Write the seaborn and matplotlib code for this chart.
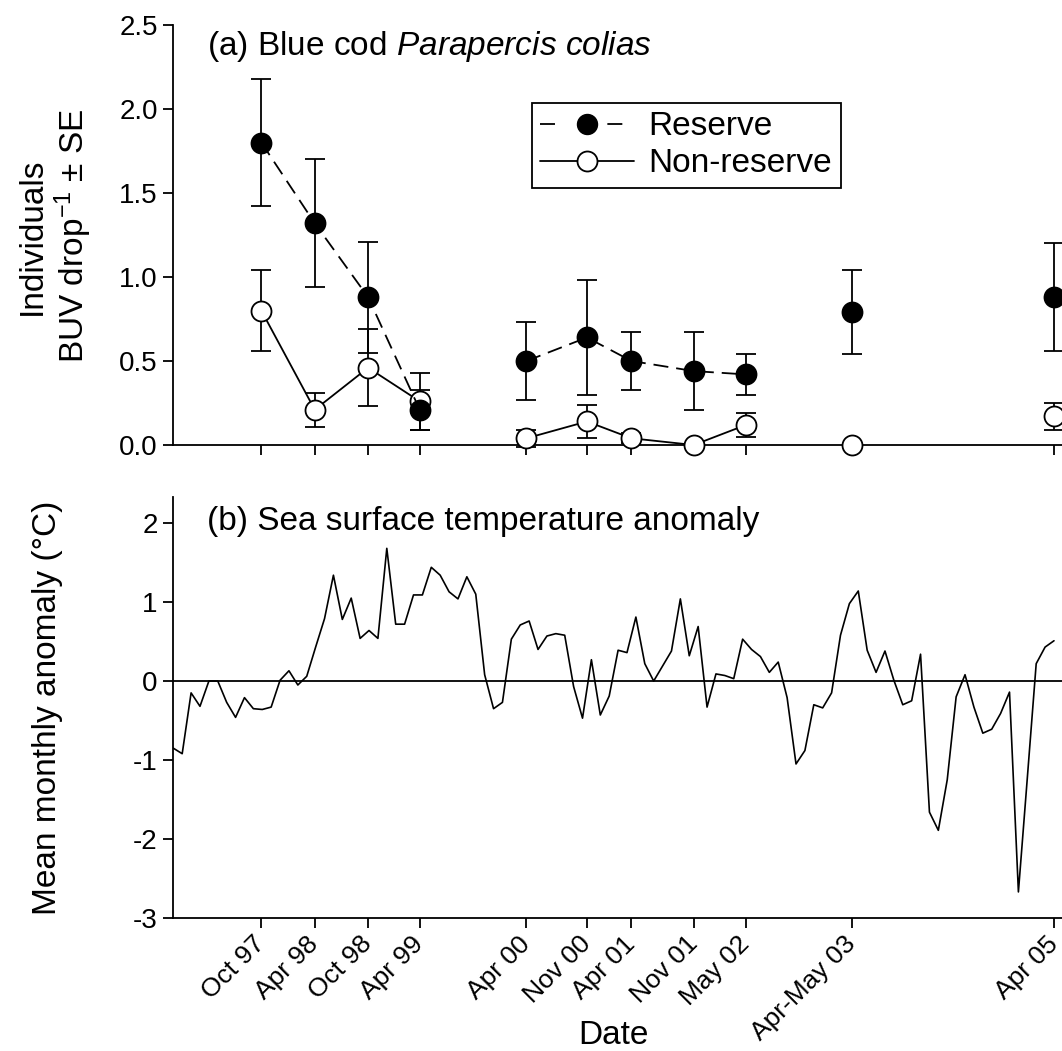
import numpy as np
import pandas as pd
import matplotlib
matplotlib.use("Agg")
import matplotlib.pyplot as plt
from matplotlib.lines import Line2D
import seaborn as sns

# Survey times (months after Dec 1996) and their tick labels
survey_labels = ["Oct 97", "Apr 98", "Oct 98", "Apr 99", "Apr 00", "Nov 00",
                 "Apr 01", "Nov 01", "May 02", "Apr-May 03", "Apr 05"]
survey_month = [9.9, 15.9, 21.9, 27.7, 39.7, 46.5, 51.5, 58.5, 64.4, 76.3, 99.0]
# consecutive surveys that are joined by a line
survey_block = [0, 0, 0, 0, 1, 1, 1, 1, 1, 2, 3]

reserve_mean = [1.80, 1.32, 0.88, 0.21, 0.50, 0.64, 0.50, 0.44, 0.42, 0.79, 0.88]
reserve_se = [0.38, 0.38, 0.33, 0.12, 0.23, 0.34, 0.17, 0.23, 0.12, 0.25, 0.32]
nonres_mean = [0.80, 0.21, 0.46, 0.26, 0.04, 0.14, 0.04, 0.00, 0.12, 0.00, 0.17]
nonres_se = [0.24, 0.10, 0.23, 0.17, 0.05, 0.10, 0.03, 0.00, 0.07, 0.00, 0.08]

# Monthly sea surface temperature anomaly (deg C), starting Dec 1996
sst_anomaly = [
    -0.85, -0.92, -0.15, -0.32, 0.00, 0.00, -0.27, -0.46, -0.21, -0.35,
    -0.36, -0.33, 0.01, 0.13, -0.05, 0.06, 0.43, 0.79, 1.34, 0.78,
    1.05, 0.54, 0.64, 0.54, 1.68, 0.72, 0.72, 1.09, 1.09, 1.44,
    1.34, 1.13, 1.04, 1.32, 1.10, 0.08, -0.35, -0.27, 0.53, 0.71,
    0.76, 0.40, 0.57, 0.60, 0.58, -0.07, -0.47, 0.27, -0.43, -0.19,
    0.39, 0.36, 0.81, 0.22, 0.00, 0.19, 0.38, 1.04, 0.32, 0.69,
    -0.33, 0.09, 0.07, 0.03, 0.53, 0.40, 0.31, 0.11, 0.24, -0.21,
    -1.05, -0.88, -0.30, -0.34, -0.15, 0.58, 0.98, 1.14, 0.39, 0.11,
    0.38, 0.01, -0.30, -0.25, 0.34, -1.66, -1.89, -1.25, -0.20, 0.08,
    -0.33, -0.66, -0.61, -0.41, -0.14, -2.67, -1.23, 0.22, 0.43, 0.51,
]

sns.set_theme(style="ticks")
plt.rcParams.update({
    "font.family": ["Liberation Sans", "DejaVu Sans"],
    "mathtext.fontset": "custom",
    "mathtext.rm": "Liberation Sans",
    "mathtext.it": "Liberation Sans:italic",
    "axes.unicode_minus": False,
    "axes.linewidth": 1.3,
    "axes.edgecolor": "black",
    "xtick.color": "black",
    "ytick.color": "black",
    "text.color": "black",
})

W, H = 1062, 1051
fig = plt.figure(figsize=(W / 100, H / 100), dpi=100)

def fx(px):
    return px / W

def fy(py):
    return 1 - py / H

ax_a = fig.add_axes([fx(173), fy(445), fx(1070 - 173), 420 / H])
ax_b = fig.add_axes([fx(173), fy(918), fx(1070 - 173), 421 / H])

xlim = (-0.034, 100.8)

fish = pd.DataFrame({
    "month": survey_month * 2,
    "mean": reserve_mean + nonres_mean,
    "se": reserve_se + nonres_se,
    "site": ["Reserve"] * len(survey_month) + ["Non-reserve"] * len(survey_month),
    "block": survey_block * 2,
})
res = fish[fish.site == "Reserve"]
non = fish[fish.site == "Non-reserve"]

lw = 1.3
ms = 14.4
dash = (0, (8.3, 4.4))

# error bars
for d in (non, res):
    ax_a.errorbar(d["month"], d["mean"], yerr=d["se"], fmt="none", ecolor="black",
                  elinewidth=lw, capsize=7, capthick=lw, zorder=2, clip_on=False)

# connecting lines
sns.lineplot(data=non, x="month", y="mean", units="block", estimator=None,
             color="black", lw=lw, ax=ax_a, zorder=2.5, legend=False)
sns.lineplot(data=res, x="month", y="mean", units="block", estimator=None,
             color="black", lw=lw, linestyle=dash, ax=ax_a, zorder=3.5, legend=False)

# symbols
sns.scatterplot(data=non, x="month", y="mean", s=ms ** 2, color="white",
                edgecolor="black", linewidth=lw, ax=ax_a, zorder=3, clip_on=False,
                legend=False)
sns.scatterplot(data=res, x="month", y="mean", s=ms ** 2, color="black",
                edgecolor="black", linewidth=lw, ax=ax_a, zorder=4, clip_on=False,
                legend=False)

ax_a.set_xlim(*xlim)
ax_a.set_ylim(0, 2.5)
ax_a.set_yticks([0, 0.5, 1.0, 1.5, 2.0, 2.5])
ax_a.set_yticklabels(["0.0", "0.5", "1.0", "1.5", "2.0", "2.5"])
ax_a.set_xticks(survey_month)
ax_a.set_xticklabels([])
ax_a.set_xlabel("")
ax_a.set_ylabel("")
sns.despine(ax=ax_a, top=True, right=True)

handles = [
    Line2D([], [], color="black", lw=lw, linestyle=(0, (8.3, 29)), marker="o",
           markersize=ms, markerfacecolor="black", markeredgecolor="black"),
    Line2D([], [], color="black", lw=lw, linestyle="-", marker="o",
           markersize=ms, markerfacecolor="white", markeredgecolor="black",
           markeredgewidth=lw),
]
leg = ax_a.legend(handles, ["Reserve", "Non-reserve"], loc="upper left",
                  bbox_to_anchor=(fx(532), fy(103)), bbox_transform=fig.transFigure,
                  borderaxespad=0, fontsize=24, frameon=True, fancybox=False,
                  borderpad=0.25, labelspacing=0.18, handlelength=2.8,
                  handletextpad=0.45, numpoints=1)
leg.get_frame().set_edgecolor("black")
leg.get_frame().set_linewidth(lw)
leg.get_frame().set_facecolor("white")
leg.get_frame().set_alpha(1)

# Sea surface temperature panel
sst = pd.DataFrame({"month": np.arange(len(sst_anomaly)), "anomaly": sst_anomaly})
ax_b.axhline(0, color="black", lw=lw, zorder=1)
sns.lineplot(data=sst, x="month", y="anomaly", color="black", lw=1.2, ax=ax_b, zorder=2)
ax_b.set_xlim(*xlim)
ax_b.set_ylim(-3, 2.33)
ax_b.set_yticks([-3, -2, -1, 0, 1, 2])
ax_b.set_xticks(survey_month)
ax_b.set_xticklabels(survey_labels, rotation=45, ha="right", va="center",
                     rotation_mode="anchor")
ax_b.set_xlabel("")
ax_b.set_ylabel("")
sns.despine(ax=ax_b, top=True, right=True)

for ax in (ax_a, ax_b):
    ax.tick_params(direction="out", length=7, width=lw, labelsize=20, pad=4)
    for s in ("left", "bottom"):
        ax.spines[s].set_linewidth(lw)
ax_b.tick_params(axis="x", pad=9, labelsize=19)

# panel titles and axis labels
fig.text(fx(207), fy(55), "(a) Blue cod $\\it{Parapercis\\ colias}$", fontsize=24,
         va="baseline", ha="left")
fig.text(fx(207), fy(530), "(b) Sea surface temperature anomaly", fontsize=24,
         va="baseline", ha="left")
fig.text(fx(55), fy(236), "Individuals\nBUV drop$^{-1}$ ± SE", fontsize=24,
         rotation=90, ha="center", va="center", multialignment="center",
         linespacing=1.15)
fig.text(fx(48), fy(708), "Mean monthly anomaly (°C)", fontsize=24,
         rotation=90, ha="center", va="center")
fig.text(fx(613), fy(1035), "Date", fontsize=24, ha="center", va="center")

fig.savefig("out.png", dpi=100)
